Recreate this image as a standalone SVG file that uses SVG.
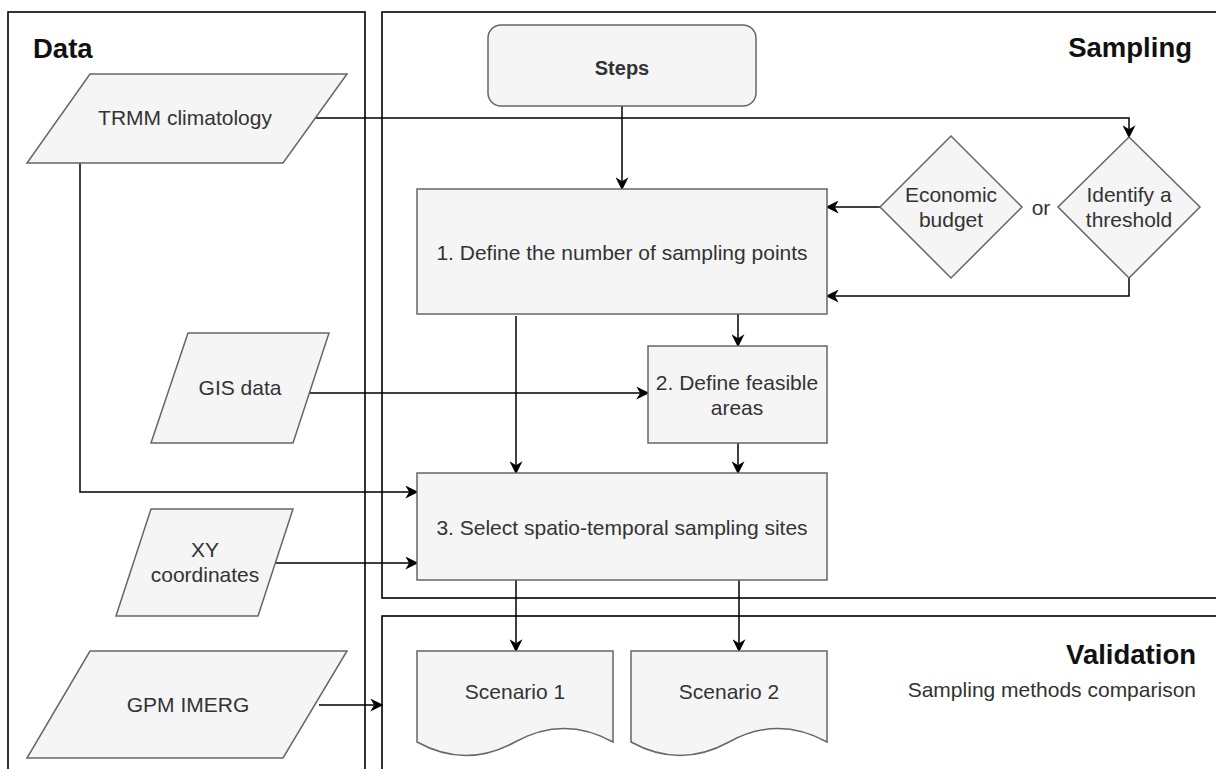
<svg xmlns="http://www.w3.org/2000/svg" width="1216" height="769" viewBox="0 0 1216 769">
<defs>
<style>
.panel{fill:#ffffff;stroke:#000000;stroke-width:1.6}
.shape{fill:#f5f5f5;stroke:#666666;stroke-width:1.5}
.t{font-family:"Liberation Sans",Arial,sans-serif;font-size:21px;fill:#333333;text-anchor:middle}
.title{font-family:"Liberation Sans",Arial,sans-serif;font-size:27.5px;font-weight:bold;fill:#111111}
.edge{fill:none;stroke:#000000;stroke-width:1.5}
</style>
<marker id="arr" viewBox="0 0 10 10" refX="9" refY="5" markerWidth="13" markerHeight="13" markerUnits="userSpaceOnUse" orient="auto">
<path d="M0,0 L10,5 L0,10 L3,5 z" fill="#000000"/>
</marker>
</defs>
<rect width="1216" height="769" fill="#ffffff"/>

<g id="panel-data">
<rect class="panel" x="8" y="12" width="357" height="780"/>
<text class="title" x="33" y="58">Data</text>
</g>
<g id="panel-sampling">
<rect class="panel" x="382" y="12" width="850" height="586"/>
<text class="title" x="1192" y="57" text-anchor="end">Sampling</text>
</g>
<g id="panel-validation">
<rect class="panel" x="382" y="616" width="850" height="180"/>
<text class="title" x="1196" y="664" text-anchor="end">Validation</text>
<text class="t" x="1196" y="697" text-anchor="end" style="text-anchor:end">Sampling methods comparison</text>
</g>

<g id="connectors">
<path class="edge" d="M622,106 V189" marker-end="url(#arr)"/>
<path class="edge" d="M315,118 H1129 V137" marker-end="url(#arr)"/>
<path class="edge" d="M880,207 H827" marker-end="url(#arr)"/>
<path class="edge" d="M1129,278 V296 H827" marker-end="url(#arr)"/>
<path class="edge" d="M738,314 V346" marker-end="url(#arr)"/>
<path class="edge" d="M516,316 V473" marker-end="url(#arr)"/>
<path class="edge" d="M310,393 H648" marker-end="url(#arr)"/>
<path class="edge" d="M738,443 V473" marker-end="url(#arr)"/>
<path class="edge" d="M80,163 V492 H417" marker-end="url(#arr)"/>
<path class="edge" d="M276,563 H417" marker-end="url(#arr)"/>
<path class="edge" d="M319,705 H382" marker-end="url(#arr)"/>
<path class="edge" d="M516,580 V651" marker-end="url(#arr)"/>
<path class="edge" d="M739,580 V651" marker-end="url(#arr)"/>
</g>

<g id="steps">
<rect class="shape" x="488" y="25" width="268" height="81" rx="13"/>
<text class="t" x="622" y="75" style="font-weight:bold;font-size:20px">Steps</text>
</g>
<g id="trmm">
<polygon class="shape" points="90,74 347,74 283,163 27,163"/>
<text class="t" x="185" y="125">TRMM climatology</text>
</g>
<g id="box1">
<rect class="shape" x="417" y="189" width="410" height="125"/>
<text class="t" x="622" y="260">1. Define the number of sampling points</text>
</g>
<g id="economic">
<polygon class="shape" points="951,136 1022,207 951,278 880,207"/>
<text class="t" x="951" y="202">Economic</text>
<text class="t" x="951" y="227">budget</text>
</g>
<g id="or-label">
<text class="t" x="1041" y="215">or</text>
</g>
<g id="threshold">
<polygon class="shape" points="1129,137 1200,207 1129,278 1058,207"/>
<text class="t" x="1129" y="202">Identify a</text>
<text class="t" x="1129" y="227">threshold</text>
</g>
<g id="gis">
<polygon class="shape" points="188,333 329,333 293,443 151,443"/>
<text class="t" x="240" y="395">GIS data</text>
</g>
<g id="box2">
<rect class="shape" x="648" y="346" width="179" height="97"/>
<text class="t" x="737" y="390">2. Define feasible</text>
<text class="t" x="737" y="415">areas</text>
</g>
<g id="box3">
<rect class="shape" x="417" y="473" width="410" height="107"/>
<text class="t" x="622" y="535">3. Select spatio-temporal sampling sites</text>
</g>
<g id="xy">
<polygon class="shape" points="151,509 293,509 258,616 116,616"/>
<text class="t" x="205" y="557">XY</text>
<text class="t" x="205" y="582">coordinates</text>
</g>
<g id="gpm">
<polygon class="shape" points="90,651 347,651 283,758 27,758"/>
<text class="t" x="188" y="712">GPM IMERG</text>
</g>
<g id="scenario1">
<path class="shape" d="M417,651 H613 V742 Q564,715 515,742 Q466,769 417,742 Z"/>
<text class="t" x="515" y="699">Scenario 1</text>
</g>
<g id="scenario2">
<path class="shape" d="M631,651 H827 V742 Q778,715 729,742 Q680,769 631,742 Z"/>
<text class="t" x="729" y="699">Scenario 2</text>
</g>
</svg>
